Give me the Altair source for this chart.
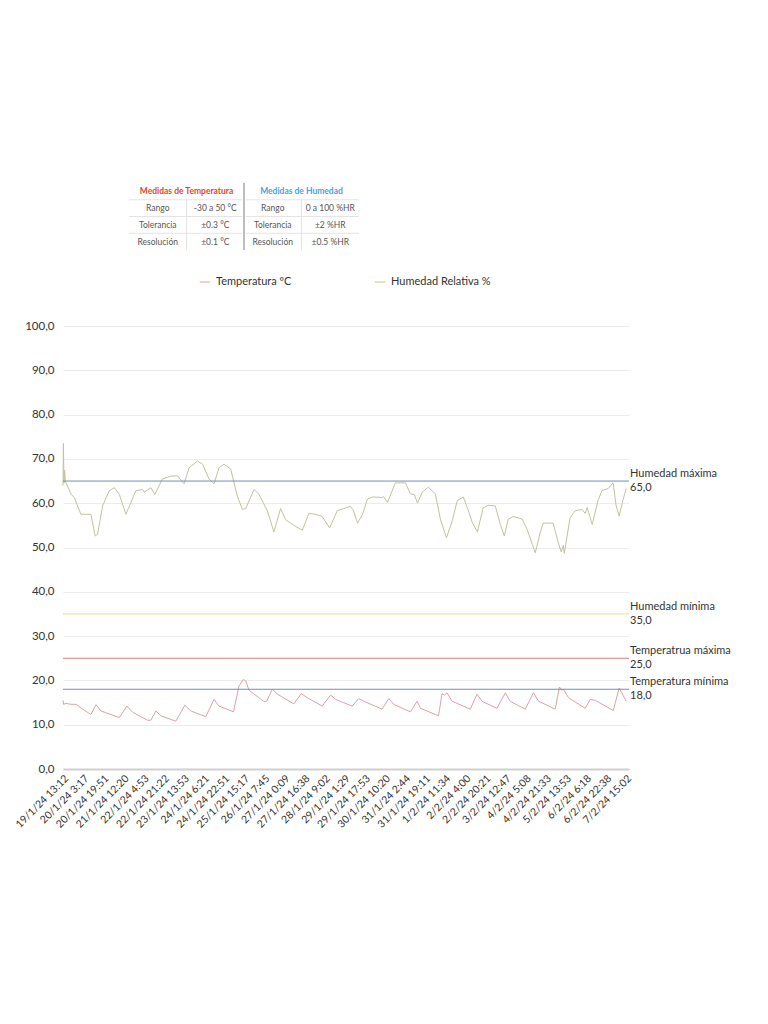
import altair as alt
import pandas as pd

# ---------------- data ----------------
x_labels = ["19/1/24 13:12", "20/1/24 3:17", "20/1/24 19:51", "21/1/24 12:20", "22/1/24 4:53",
            "22/1/24 21:22", "23/1/24 13:53", "24/1/24 6:21", "24/1/24 22:51", "25/1/24 15:17",
            "26/1/24 7:45", "27/1/24 0:09", "27/1/24 16:38", "28/1/24 9:02", "29/1/24 1:29",
            "29/1/24 17:53", "30/1/24 10:20", "31/1/24 2:44", "31/1/24 19:11", "1/2/24 11:34",
            "2/2/24 4:00", "2/2/24 20:21", "3/2/24 12:47", "4/2/24 5:08", "4/2/24 21:33",
            "5/2/24 13:53", "6/2/24 6:18", "6/2/24 22:38", "7/2/24 15:02"]

hum_x = [0.00, 0.02, 0.05, 0.08, 0.12, 0.15, 0.40, 0.56, 0.89, 1.39, 1.60, 1.72, 1.97, 2.30, 2.55,
         2.80, 3.13, 3.62, 3.96, 4.04, 4.37, 4.57, 4.95, 5.36, 5.69, 6.02, 6.27, 6.69, 6.94, 7.26,
         7.51, 7.76, 8.01, 8.34, 8.67, 8.92, 9.09, 9.50, 9.75, 10.16, 10.49, 10.82, 11.07, 11.48,
         11.90, 12.23, 12.56, 12.89, 13.26, 13.64, 13.97, 14.30, 14.45, 14.65, 14.90, 15.14, 15.39,
         15.89, 15.94, 16.14, 16.53, 17.03, 17.28, 17.48, 17.63, 17.87, 18.17, 18.52, 18.77, 19.07,
         19.36, 19.61, 19.91, 20.11, 20.36, 20.61, 20.90, 21.15, 21.50, 21.75, 21.95, 22.14, 22.39,
         22.84, 23.09, 23.34, 23.49, 23.73, 23.88, 24.38, 24.63, 24.78, 24.88, 24.93, 25.22, 25.47,
         25.82, 25.97, 26.07, 26.32, 26.61, 26.81, 27.11, 27.36, 27.51, 27.66, 27.86, 28.01]
hum_y = [64.0, 73.5, 64.5, 67.5, 64.8, 64.7, 62.0, 61.3, 57.5, 57.5, 52.6, 53.0, 59.4, 62.8, 63.5,
         62.0, 57.5, 62.8, 63.1, 62.5, 63.5, 62.0, 65.5, 66.1, 66.2, 64.4, 68.0, 69.5, 68.8, 65.5,
         64.4, 68.0, 68.8, 67.7, 61.6, 58.6, 58.8, 63.1, 62.0, 58.3, 53.5, 58.8, 56.3, 55.0,
         53.9, 57.7, 57.5, 57.0, 54.4, 58.3, 58.8, 59.3, 58.3, 55.5, 57.5, 60.9, 61.4,
         61.3, 61.5, 60.2, 64.6, 64.6, 62.1, 61.9, 60.0, 62.5, 63.6, 62.1, 56.4, 52.2,
         56.0, 60.6, 61.4, 59.0, 55.6, 53.5, 59.0, 59.5, 59.4, 55.2, 52.6, 56.4, 57.0,
         56.4, 54.0, 50.7, 48.8, 53.3, 55.5, 55.5, 51.1, 49.0, 50.5, 48.7, 56.7, 58.3,
         58.6, 57.7, 59.0, 55.2, 60.6, 62.9, 63.3, 64.6, 59.4, 57.1, 60.9, 63.3]

temp_x = [0.00, 0.03, 0.15, 0.40, 0.65, 0.98, 1.39, 1.64, 1.89, 2.80, 3.18, 3.46, 4.21, 4.37, 4.62,
          4.87, 5.61, 6.06, 6.36, 7.10, 7.51, 7.76, 8.48, 8.75, 8.97, 9.09, 9.25, 10.00, 10.13,
          10.41, 10.66, 11.48, 11.85, 12.15, 12.89, 13.31, 13.56, 14.38, 14.71, 14.96, 15.87,
          16.20, 16.45, 17.28, 17.61, 17.78, 18.68, 18.85, 18.97, 19.10, 19.35, 20.26, 20.59,
          20.84, 21.58, 22.00, 22.24, 22.99, 23.40, 23.65, 24.48, 24.69, 24.81, 24.89, 25.14,
          25.97, 26.22, 26.47, 27.37, 27.66, 27.79, 28.01]
temp_y = [15.5, 14.6, 14.8, 14.6, 14.6, 13.5, 12.3, 14.5, 13.1, 11.6, 14.2, 12.8, 11.0, 11.0, 13.1,
          12.0, 10.8, 14.4, 13.1, 11.8, 15.7, 14.2, 12.9, 18.7, 20.2, 19.9, 17.8, 15.2, 15.3,
          18.0, 16.9, 14.7, 17.0, 16.1, 14.2, 16.7, 15.7, 14.2, 15.9, 15.3, 13.5,
          15.9, 14.6, 12.9, 15.3, 13.7, 12.0, 17.0, 16.7, 17.2, 15.3, 13.5, 16.9,
          15.3, 13.7, 17.2, 15.3, 13.5, 17.2, 15.3, 13.5, 18.5, 17.8, 18.0, 16.1,
          13.7, 15.7, 15.5, 13.2, 18.3, 17.2, 15.3]

series_names = ["Temperatura ºC", "Humedad Relativa %"]
series_colors = ["#dca3a4", "#c3c29c"]

ref_values = [65.0, 35.0, 25.0, 18.0]
ref_names = ["Humedad máxima", "Humedad mínima", "Temperatrua máxima", "Temperatura mínima"]
ref_colors = ["#6f8fbb", "#f1dc86", "#e07e77", "#6f8fbb"]

# table content
tbl_headers = ["Medidas de Temperatura", "Medidas de Humedad"]
tbl_header_colors = ["#e2472f", "#4c9fe0"]
tbl_row_names = ["Rango", "Tolerancia", "Resolución"]
tbl_temp_vals = ["-30 a 50 °C", "±0.3 °C", "±0.1 °C"]
tbl_hum_vals = ["0 a 100 %HR", "±2 %HR", "±0.5 %HR"]

# ---------------- build frames ----------------
df = pd.concat([
    pd.DataFrame({"idx": temp_x, "val": temp_y, "serie": series_names[0]}),
    pd.DataFrame({"idx": hum_x, "val": hum_y, "serie": series_names[1]}),
])

X_MAX = 28.15
xs = alt.Scale(domain=[0, X_MAX], nice=False, zero=False)
ys = alt.Scale(domain=[0, 100], nice=False)

label_arr = "[" + ",".join("'" + s + "'" for s in x_labels) + "]"

x_axis = alt.Axis(values=list(range(len(x_labels))), labelExpr=label_arr + "[datum.value]",
                  labelAngle=315, labelFontSize=10.5, labelColor="#333333", ticks=False,
                  grid=False, domain=True, domainColor="#cfcfcf", domainWidth=2,
                  labelPadding=4, labelOverlap=False, labelBound=False, title=None)
y_axis = alt.Axis(values=list(range(0, 101, 10)),
                  labelExpr="replace(format(datum.value, '.1f'), '.', ',')",
                  labelFontSize=11.5, labelColor="#333333", ticks=False, domain=False,
                  grid=True, gridColor="#ececec", labelPadding=9, title=None)

lines = alt.Chart(df).mark_line(strokeWidth=1).encode(
    x=alt.X("idx:Q", scale=xs, axis=x_axis),
    y=alt.Y("val:Q", scale=ys, axis=y_axis),
    color=alt.Color("serie:N", scale=alt.Scale(domain=series_names, range=series_colors),
                    sort=series_names,
                    legend=alt.Legend(orient="none", legendX=136, legendY=-50, direction="horizontal",
                                      title=None, symbolType="stroke", symbolSize=110,
                                      symbolStrokeWidth=1, labelFontSize=11, labelColor="#333333",
                                      columnPadding=80, labelOffset=5)),
)

ref_df = pd.DataFrame({"value": ref_values, "name": ref_names, "c": ref_colors,
                       "txt": [n + "\n" + f"{v:.1f}".replace(".", ",") for n, v in zip(ref_names, ref_values)],
                       "xend": X_MAX})

rules = alt.Chart(ref_df).mark_rule(strokeWidth=1).encode(
    y=alt.Y("value:Q", scale=ys, axis=y_axis),
    color=alt.Color("c:N", scale=None),
)
rule_text = alt.Chart(ref_df).mark_text(align="left", baseline="middle", dx=1, dy=-7, fontSize=11,
                                        lineBreak="\n", lineHeight=14, color="#333333").encode(
    x=alt.X("xend:Q", scale=xs, axis=x_axis),
    y=alt.Y("value:Q", scale=ys, axis=y_axis),
    text="txt:N",
)

main = alt.layer(lines, rules, rule_text)

# ---------------- table (own scales, placed above plot) ----------------
tx = alt.Scale(domain=[0, 4], range=[66, 296], nice=False, zero=False)
ty = alt.Scale(domain=[0, 4], range=[-143, -76], nice=False, zero=False)

hdr_df = pd.DataFrame({"col": [1.0, 3.0], "row": [0.5, 0.5], "t": tbl_headers, "c": tbl_header_colors})
body_rows = []
for i in range(3):
    body_rows.append({"col": 0.5, "row": 1.5 + i, "t": tbl_row_names[i]})
    body_rows.append({"col": 1.5, "row": 1.5 + i, "t": tbl_temp_vals[i]})
    body_rows.append({"col": 2.5, "row": 1.5 + i, "t": tbl_row_names[i]})
    body_rows.append({"col": 3.5, "row": 1.5 + i, "t": tbl_hum_vals[i]})
body_df = pd.DataFrame(body_rows)

seg = []
for r in [1, 2, 3]:
    seg.append({"x1": 0, "x2": 1.97, "y1": r, "y2": r})
    seg.append({"x1": 2.03, "x2": 4, "y1": r, "y2": r})
for cpos in [1, 3]:
    seg.append({"x1": cpos, "x2": cpos, "y1": 1, "y2": 4})
seg_df = pd.DataFrame(seg)
div_df = pd.DataFrame([{"x1": 2, "x2": 2, "y1": 0, "y2": 4}])

hdr = alt.Chart(hdr_df).mark_text(fontSize=8.5, fontWeight="bold", baseline="middle").encode(
    x=alt.X("col:Q", scale=tx, axis=None),
    y=alt.Y("row:Q", scale=ty, axis=None),
    text="t:N",
    color=alt.Color("c:N", scale=None),
)
body = alt.Chart(body_df).mark_text(fontSize=8.5, baseline="middle", color="#555555").encode(
    x=alt.X("col:Q", scale=tx, axis=None),
    y=alt.Y("row:Q", scale=ty, axis=None),
    text="t:N",
)
grid_lines = alt.Chart(seg_df).mark_rule(strokeWidth=0.8, color="#dddddd").encode(
    x=alt.X("x1:Q", scale=tx, axis=None), x2="x2:Q",
    y=alt.Y("y1:Q", scale=ty, axis=None), y2="y2:Q",
)
divider = alt.Chart(div_df).mark_rule(strokeWidth=1.5, color="#a8a8a8").encode(
    x=alt.X("x1:Q", scale=tx, axis=None), x2="x2:Q",
    y=alt.Y("y1:Q", scale=ty, axis=None), y2="y2:Q",
)
table = alt.layer(grid_lines, divider, hdr, body)

chart = alt.layer(main, table).resolve_scale(x="independent", y="independent", color="independent").properties(
    width=566, height=443,
    padding={"left": 5, "top": 174, "right": 5, "bottom": 5},
).configure(font="Lato").configure_axis(labelOverlap=False).configure_view(stroke=None)

chart.save("out.html", embed_options={"renderer": "svg", "actions": False})
